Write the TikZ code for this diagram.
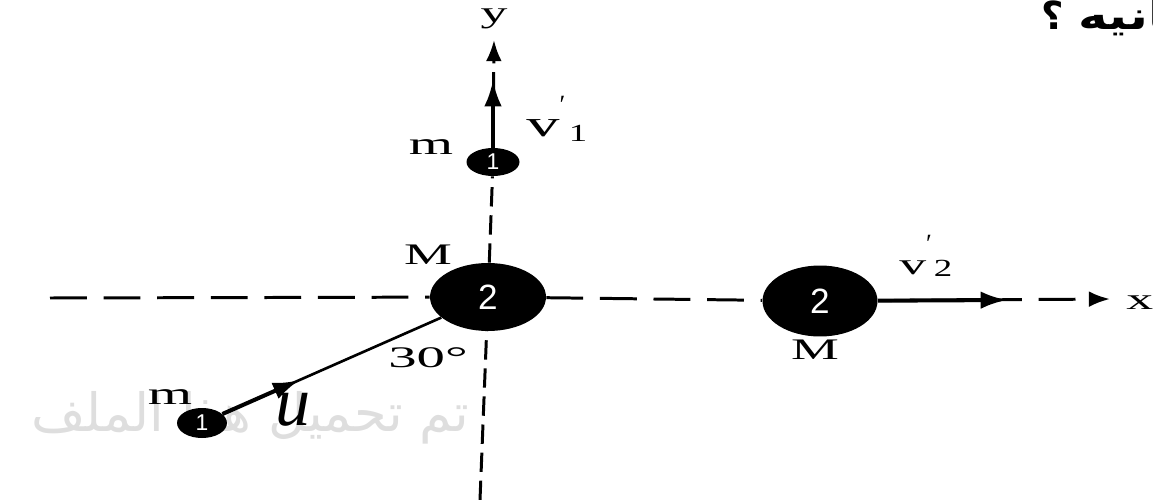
\documentclass[tikz,border=0pt]{standalone}
\usepackage{fontspec}
\setmainfont{Liberation Serif}
\newfontfamily\arabicfont[Script=Arabic]{DejaVu Sans}
\newfontfamily\sansf{Liberation Sans}
\TeXXeTstate=1
\usetikzlibrary{shapes.geometric,arrows.meta,calc}
\newcommand{\wide}[1]{\scalebox{1.8}[1]{#1}}
\begin{document}
\begin{tikzpicture}[x=0.02cm,y=-0.02cm,
  axis/.style={line width=1.7pt, dash pattern=on 21pt off 9.5pt},
  yaxis/.style={line width=1.7pt, dash pattern=on 11pt off 5pt},
  axtip/.style={-{Latex[length=12pt,width=9pt]}},
  vec/.style={line width=2.3pt, -{Latex[length=15pt,width=10pt]}},
  ball/.style={ellipse, fill=black, inner sep=0pt, text=white},
  lbl/.style={inner sep=0pt, font=\fontsize{17}{17}\selectfont},
  ar/.style={inner sep=0pt, anchor=base, font=\arabicfont\bfseries\fontsize{22}{22}\selectfont}]
\useasboundingbox (0,0) rectangle (1153,500);

% faint watermark text and top-right fragment
\node[inner sep=0pt, anchor=east, text=black!13, font=\arabicfont\fontsize{30}{30}\selectfont] (wm) at (470,418) {\beginR تم تحميل هذا الملف\endR};
\node[ar] (q) at (1053,30) {؟};
\node[ar, anchor=base west] (top) at (1078,30) {\scalebox{1.3}[1]{ثانيه}};

% balls
\node[ball, minimum width=2.32cm, minimum height=1.36cm, font=\sansf\fontsize{20}{20}\selectfont] (M1) at (488,297) {2};
\node[ball, minimum width=2.3cm, minimum height=1.42cm, font=\sansf\fontsize{20}{20}\selectfont] (M2) at (820,301) {2};
\node[ball, minimum width=1.06cm, minimum height=0.56cm, font=\sansf\fontsize{13}{13}\selectfont] (m1) at (493,162) {1};
\node[ball, minimum width=1.0cm, minimum height=0.6cm, font=\sansf\fontsize{13}{13}\selectfont] (m2) at (202,423) {1};

% axes end points
\coordinate (xl) at (50,298);
\coordinate (xr) at (1110,299);
\coordinate (yb) at (480,500);
\coordinate (yt) at (494,40);
\coordinate (v1) at (493,80);
\coordinate (v2) at (1007,300);

% x axis
\draw[axis] (xl) -- (M1);
\draw[axis] (M1) -- (M2);
\draw[axis, axtip] (M2) -- (xr);
% y axis
\draw[yaxis] (yb) -- (M1);
\draw[yaxis] (M1) -- (m1);
\draw[yaxis, axtip] (m1) -- (yt);

% velocity vectors
\draw[vec] (m1) -- (v1);
\draw[vec] (M2) -- (v2);
\draw[line width=1.5pt] (m2) -- (M1);
\draw[line width=2.3pt, -{Latex[length=15pt,width=10pt]}] (m2) -- ($(m2)!0.34!(M1)$);

% labels
\node[lbl] (lM1) at (428,255) {\wide{M}};
\node[lbl] (lM2) at (815,350) {\wide{M}};
\node[lbl, font=\fontsize{18}{18}\selectfont] (lm1) at (431,147) {\wide{m}};
\node[lbl, font=\fontsize{18}{18}\selectfont] (lm2) at (170,397) {\wide{m}};
\node[lbl] (l30) at (428,358) {\scalebox{1.9}[1]{30°}};
\node[lbl] (ly) at (494,19) {\wide{y}};
\node[lbl, anchor=west] (lx) at (1126,303) {\wide{x}};
\node[lbl, anchor=base west, font=\fontsize{21}{21}\selectfont] (lv1) at (526,136) {\wide{v}\raisebox{1.3ex}{\fontsize{15}{15}\selectfont ′}\kern2pt\raisebox{-0.3ex}{\scalebox{1.5}[1]{\fontsize{14}{14}\selectfont 1}}};
\node[lbl, anchor=base west, font=\fontsize{17}{17}\selectfont] (lv2) at (899,274) {\wide{v}\raisebox{1.6ex}{\fontsize{15}{15}\selectfont ′}\kern1pt\raisebox{-0.2ex}{\scalebox{1.5}[1]{\fontsize{14}{14}\selectfont 2}}};
\node[lbl, font=\itshape\fontsize{40}{40}\selectfont] (lu) at (293,410) {u};
\end{tikzpicture}
\end{document}
